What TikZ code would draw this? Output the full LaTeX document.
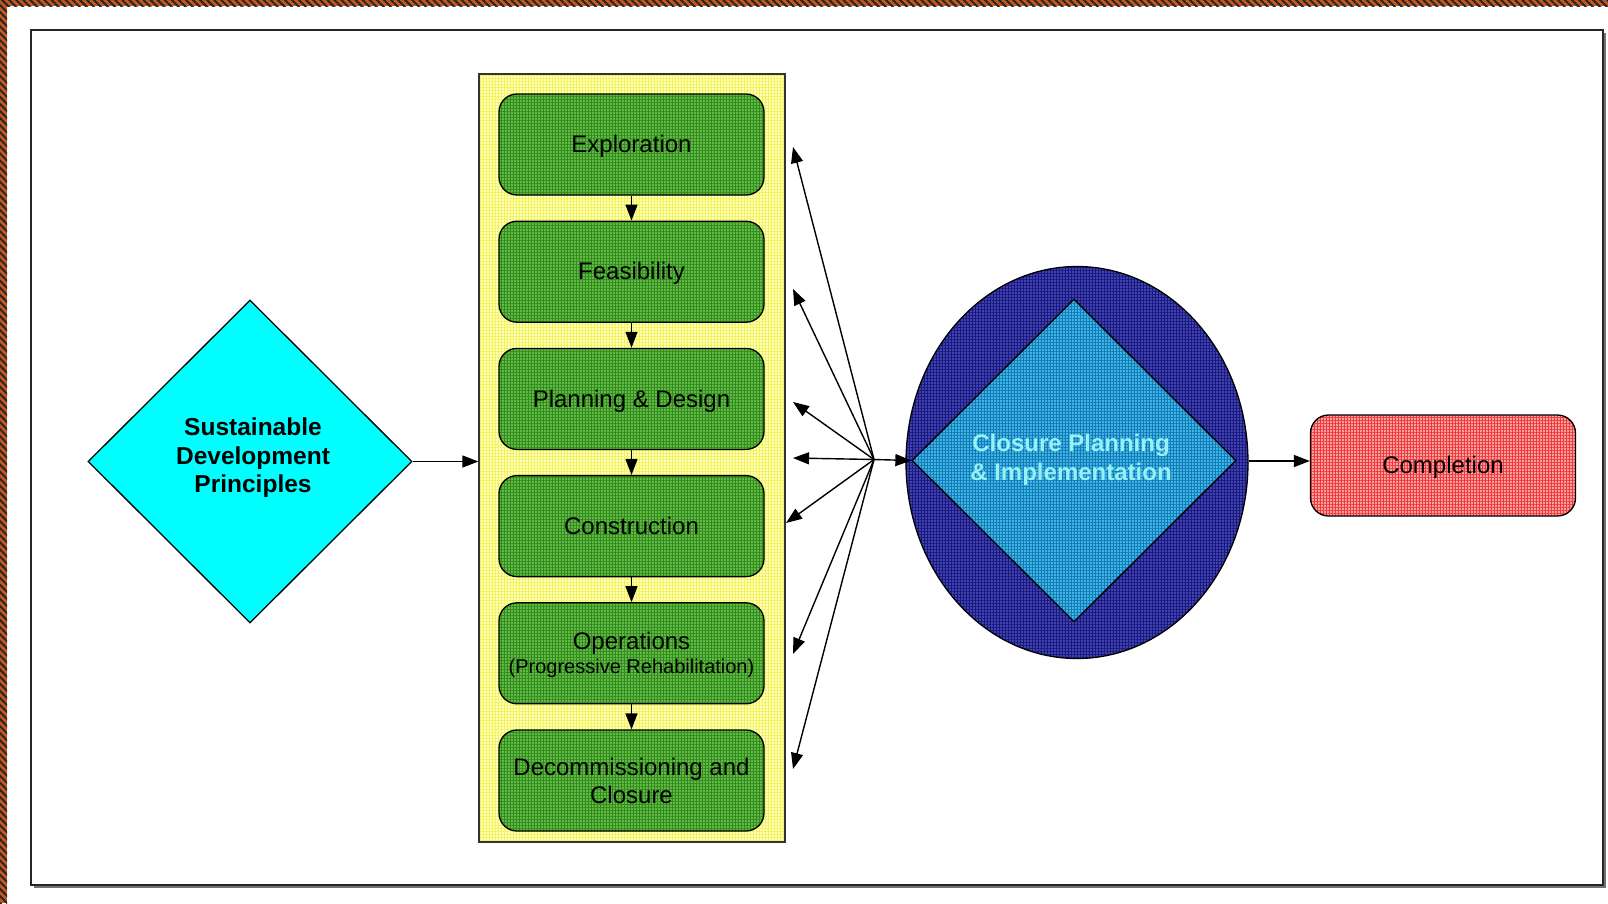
\documentclass[tikz,border=0pt]{standalone}
\usepackage{fontspec}
\setmainfont{Liberation Sans}
\usetikzlibrary{shapes.geometric,arrows.meta,patterns.meta}
\definecolor{bordercol}{RGB}{196,86,30}
\definecolor{greenfill}{RGB}{102,184,68}
\definecolor{greengrid}{RGB}{46,139,30}
\definecolor{yellowfill}{RGB}{255,255,192}
\definecolor{yellowgrid}{RGB}{242,242,90}
\definecolor{bluefill}{RGB}{66,66,170}
\definecolor{bluegrid}{RGB}{24,24,130}
\definecolor{cyanfill}{RGB}{56,184,228}
\definecolor{cyangrid}{RGB}{24,118,180}
\definecolor{redfill}{RGB}{248,160,160}
\definecolor{redgrid}{RGB}{240,56,56}
\definecolor{closuretext}{RGB}{150,240,245}
\newcommand{\dropby}[2]{\raisebox{-#1}[\height][\depth]{#2}}
\tikzset{
  gridfill/.style 2 args={preaction={fill=#1},
    preaction={pattern={Hatch[angle=0,distance=3pt,line width=0.6pt]}, pattern color=#2}},
  stage/.style={gridfill={greenfill}{greengrid}, draw=black, line width=1.3pt,
    rounded corners=18pt, minimum width=265pt, minimum height=101pt, inner sep=0pt,
    align=center, font=\fontsize{24}{28}\selectfont},
  arr/.style={line width=1.4pt, -{Triangle[length=16pt,width=12pt]}},
}
\begin{document}
\begin{tikzpicture}[x=1pt,y=-1pt]
\useasboundingbox (0,0) rectangle (1608,903);
% decorative border
\fill[bordercol] (0,0) rectangle (1608,6);
\fill[pattern={Lines[angle=-45,distance=5pt,line width=2pt]}, pattern color=black!85] (0,0) rectangle (1608,6);
\fill[bordercol] (0,0) rectangle (7,903);
\fill[pattern={Lines[angle=-45,distance=5pt,line width=2pt]}, pattern color=black!85] (0,0) rectangle (7,903);
% frame with shadow
\fill[black!55] (34,33) rectangle (1606,888);
\draw[line width=1.5pt, draw=black!85, fill=white] (31,30) rectangle (1603,885);

% column
\node[gridfill={yellowfill}{yellowgrid}, draw=black!80, line width=1.3pt,
  minimum width=306pt, minimum height=768pt, inner sep=0pt] (col) at (632,458) {};

% stages
\node[stage] (b1) at (631.5,144.5) {\dropby{2pt}{Exploration}};
\node[stage] (b2) at (631.5,271.7) {\dropby{2pt}{Feasibility}};
\node[stage] (b3) at (631.5,398.9) {\dropby{2pt}{Planning \& Design}};
\node[stage] (b4) at (631.5,526.1) {Construction};
\node[stage] (b5) at (631.5,653.3) {\dropby{2.5pt}{\begin{tabular}{@{}c@{}}Operations\\[-4pt]{\fontsize{20}{22}\selectfont (Progressive Rehabilitation)}\end{tabular}}};
\node[stage] (b6) at (631.5,780.5) {Decommissioning and\\Closure};
\draw[arr] (b1) -- (b2);
\draw[arr] (b2) -- (b3);
\draw[arr] (b3) -- (b4);
\draw[arr] (b4) -- (b5);
\draw[arr] (b5) -- (b6);

% sustainable development diamond
\node[diamond, fill={rgb,255:red,0;green,255;blue,255}, draw=black, line width=1.3pt,
  minimum width=324pt, minimum height=323pt, inner sep=0pt] (sdp) at (250,461.5) {};
\node[align=center, font=\bfseries\fontsize{24.5}{28.5}\selectfont] (sdptext) at (253,458)
  {Sustainable\\Development\\Principles};
\draw[arr] (sdp.east) -- (sdp.east -| col.west);

% closure ellipse and diamond
\node[ellipse, gridfill={bluefill}{bluegrid}, draw=black, line width=1.3pt,
  minimum width=342pt, minimum height=392pt, inner sep=0pt] (ell) at (1077,462.5) {};
\node[diamond, gridfill={cyanfill}{cyangrid}, draw=black, line width=1.3pt,
  minimum width=324pt, minimum height=323pt, inner sep=0pt] (cpi) at (1074,460.5) {};
\node[align=center, text=closuretext, font=\bfseries\fontsize{24}{29}\selectfont]
  (cpitext) at (1071,460) {Closure Planning\\\& Implementation};

% completion
\node[gridfill={redfill}{redgrid}, draw=black, line width=1.3pt, rounded corners=18pt,
  minimum width=265pt, minimum height=101pt, inner sep=0pt,
  font=\fontsize{24}{28}\selectfont] (comp) at (1443,465.5) {\dropby{2pt}{Completion}};
\draw[arr] (ell.east |- 0,461) -- (comp.west |- 0,461);

% hub arrows
\coordinate (hub) at (874,459.5);
\coordinate (t1) at (793,147);
\coordinate (t2) at (793,289);
\coordinate (t3) at (793,402);
\coordinate (t4) at (793,458);
\coordinate (t5) at (786,523);
\coordinate (t6) at (793,654);
\coordinate (t7) at (793,769);
\foreach \t in {t1,t2,t3,t4,t5,t6,t7} \draw[arr] (hub) -- (\t);
\draw[arr] (hub) -- (cpi.west);
\end{tikzpicture}
\end{document}
